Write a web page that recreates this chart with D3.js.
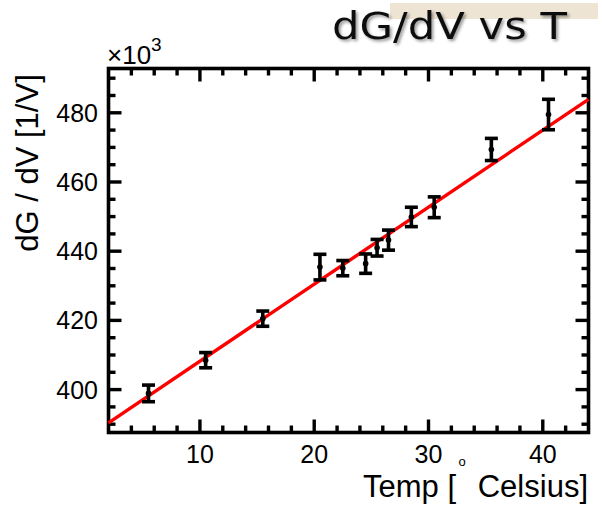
<!DOCTYPE html>
<html>
<head>
<meta charset="utf-8">
<script src="https://cdn.jsdelivr.net/npm/d3@7/dist/d3.min.js"></script>
<style>
  html, body { margin: 0; padding: 0; background: #fff; }
  svg { display: block; }
</style>
</head>
<body>
<script>
// Measured conductance slope vs temperature
const temps = [5.5, 10.5, 15.5, 20.5, 22.5, 24.5, 25.5, 26.5, 28.5, 30.5, 35.5, 40.5];
const dgdv  = [398.9, 408.5, 420.5, 435.4, 435.1, 436.4, 441.0, 443.2, 449.9, 452.7, 469.4, 479.5]; // x10^3 1/V
const errs  = [2.4, 2.2, 2.2, 3.7, 2.2, 2.8, 2.4, 2.9, 2.8, 3.0, 3.2, 4.4];

// Linear fit: dG/dV = fitIntercept + fitSlope * T
const fitIntercept = 385.95;
const fitSlope = 2.226;

const xTicks = [10, 20, 30, 40];
const yTicks = [400, 420, 440, 460, 480];

const W = 602, H = 510;
const svg = d3.select("body").append("svg").attr("width", W).attr("height", H);

const defs = svg.append("defs");
const f = defs.append("filter").attr("id", "shadow")
  .attr("x", "-10%").attr("y", "-20%").attr("width", "130%").attr("height", "160%");
f.append("feDropShadow").attr("dx", 2).attr("dy", 2).attr("stdDeviation", 1.5)
  .attr("flood-color", "#000").attr("flood-opacity", 0.4);

// Title banner
svg.append("rect").attr("x", 390).attr("y", 3).attr("width", 208).attr("height", 16)
  .attr("fill", "#ede4d4");
svg.append("text")
  .attr("x", 332).attr("y", 39)
  .attr("font-family", "'Comic Sans MS', 'DejaVu Sans', sans-serif")
  .attr("font-size", 37)
  .attr("textLength", 235).attr("lengthAdjust", "spacingAndGlyphs")
  .attr("fill", "#111")
  .attr("filter", "url(#shadow)")
  .text("dG/dV vs T");

const x = d3.scaleLinear().domain([2, 44]).range([108.5, 588.5]);
const y = d3.scaleLinear().domain([387.6, 492.8]).range([432.5, 68.5]);

const font = "'Liberation Sans', Arial, Helvetica, sans-serif";
const g = svg.append("g");

// Ticks on all four sides, pointing inward
const majorLen = 13, minorLen = 7, tickW = 3.4;
const xMinor = d3.range(4, 44, 2);
const yMinor = d3.range(390, 493, 5);
const isMajorX = v => v % 10 === 0;
const isMajorY = v => v % 20 === 0;

xMinor.forEach(v => {
  const len = isMajorX(v) ? majorLen : minorLen;
  g.append("line").attr("x1", x(v)).attr("x2", x(v))
    .attr("y1", y.range()[0]).attr("y2", y.range()[0] - len)
    .attr("stroke", "#000").attr("stroke-width", tickW);
  g.append("line").attr("x1", x(v)).attr("x2", x(v))
    .attr("y1", y.range()[1]).attr("y2", y.range()[1] + len)
    .attr("stroke", "#000").attr("stroke-width", tickW);
});
yMinor.forEach(v => {
  const len = isMajorY(v) ? majorLen : minorLen;
  g.append("line").attr("y1", y(v)).attr("y2", y(v))
    .attr("x1", x.range()[0]).attr("x2", x.range()[0] + len)
    .attr("stroke", "#000").attr("stroke-width", tickW);
  g.append("line").attr("y1", y(v)).attr("y2", y(v))
    .attr("x1", x.range()[1]).attr("x2", x.range()[1] - len)
    .attr("stroke", "#000").attr("stroke-width", tickW);
});

// Frame
g.append("rect")
  .attr("x", x.range()[0]).attr("y", y.range()[1])
  .attr("width", x.range()[1] - x.range()[0])
  .attr("height", y.range()[0] - y.range()[1])
  .attr("fill", "none").attr("stroke", "#000").attr("stroke-width", 3.6);

// Tick labels
g.selectAll("text.xt").data(xTicks).join("text")
  .attr("x", d => x(d)).attr("y", 463)
  .attr("text-anchor", "middle")
  .attr("font-family", font).attr("font-size", 25)
  .text(d => d);
g.selectAll("text.yt").data(yTicks).join("text")
  .attr("x", 98).attr("y", d => y(d) + 9)
  .attr("text-anchor", "end")
  .attr("font-family", font).attr("font-size", 25)
  .text(d => d);

// Exponent marker
const ex = g.append("text").attr("x", 107).attr("y", 64)
  .attr("font-family", font).attr("font-size", 26);
ex.append("tspan").text("×10");
ex.append("tspan").attr("dy", -13).attr("font-size", 19).text("3");

// Axis titles
g.append("text")
  .attr("transform", "translate(38,163) rotate(-90)")
  .attr("text-anchor", "middle")
  .attr("font-family", font).attr("font-size", 31)
  .text("dG / dV [1/V]");
g.append("text").attr("x", 363).attr("y", 497)
  .attr("font-family", font).attr("font-size", 31)
  .text("Temp [");
g.append("text").attr("x", 462).attr("y", 466)
  .attr("text-anchor", "middle")
  .attr("font-family", font).attr("font-size", 13)
  .text("o");
g.append("text").attr("x", 588).attr("y", 497)
  .attr("text-anchor", "end")
  .attr("font-family", font).attr("font-size", 31)
  .text("Celsius]");

// Fit line across the full x range
const [x0, x1] = x.domain();
g.append("line")
  .attr("x1", x(x0)).attr("y1", y(fitIntercept + fitSlope * x0))
  .attr("x2", x(x1)).attr("y2", y(fitIntercept + fitSlope * x1))
  .attr("stroke", "#ff0000").attr("stroke-width", 3.4);

// Data points with error bars
const pts = temps.map((t, i) => ({ t, v: dgdv[i], e: errs[i] }));
const eb = g.selectAll("g.pt").data(pts).join("g");
const capW = 6.5, barW = 3.6;
eb.append("line")
  .attr("x1", d => x(d.t)).attr("x2", d => x(d.t))
  .attr("y1", d => y(d.v - d.e)).attr("y2", d => y(d.v + d.e))
  .attr("stroke", "#000").attr("stroke-width", barW);
eb.append("line")
  .attr("x1", d => x(d.t) - capW).attr("x2", d => x(d.t) + capW)
  .attr("y1", d => y(d.v + d.e)).attr("y2", d => y(d.v + d.e))
  .attr("stroke", "#000").attr("stroke-width", barW);
eb.append("line")
  .attr("x1", d => x(d.t) - capW).attr("x2", d => x(d.t) + capW)
  .attr("y1", d => y(d.v - d.e)).attr("y2", d => y(d.v - d.e))
  .attr("stroke", "#000").attr("stroke-width", barW);
eb.append("circle")
  .attr("cx", d => x(d.t)).attr("cy", d => y(d.v)).attr("r", 2.8)
  .attr("fill", "#000");
</script>
</body>
</html>
